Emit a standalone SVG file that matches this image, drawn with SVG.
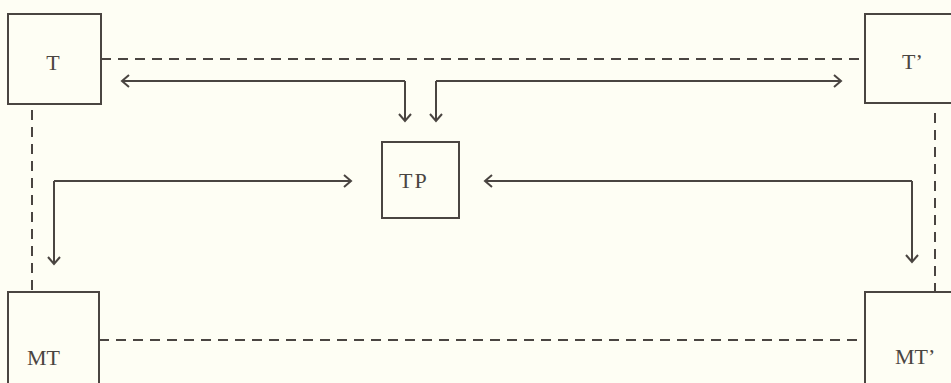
<svg xmlns="http://www.w3.org/2000/svg" width="951" height="383" viewBox="0 0 951 383">
<style>
.bg{fill:#fefef4}
.box{fill:none;stroke:#4a4541;stroke-width:2}
.lbl{font-family:"Liberation Serif","Times New Roman",serif;font-size:22px;fill:#4a4541}
.dash{fill:none;stroke:#4a4541;stroke-width:2;stroke-dasharray:10 7}
.arr{fill:none;stroke:#4a4541;stroke-width:2;marker-end:url(#ah)}
</style>
<defs>
<marker id="ah" markerWidth="14" markerHeight="14" refX="10" refY="7" orient="auto" markerUnits="userSpaceOnUse">
<path d="M3,1 L10,7 L3,13" fill="none" stroke="#4a4541" stroke-width="2"/>
</marker>
</defs>
<rect class="bg" x="0" y="0" width="951" height="383"/>
<g id="connectors">
<line class="dash" x1="101" y1="59" x2="865" y2="59"/>
<line class="dash" x1="99" y1="340" x2="865" y2="340"/>
<line class="dash" x1="32" y1="110" x2="32" y2="292"/>
<line class="dash" x1="935" y1="113" x2="935" y2="292"/>
<path class="arr" d="M405,81 L122,81"/>
<path class="arr" d="M405,81 L405,121"/>
<path class="arr" d="M436,81 L436,121"/>
<path class="arr" d="M436,81 L841,81"/>
<path class="arr" d="M54,181 L351,181"/>
<path class="arr" d="M54,181 L54,264"/>
<path class="arr" d="M912,181 L485,181"/>
<path class="arr" d="M912,181 L912,262"/>
</g>
<g id="T"><rect class="box" x="8" y="14" width="93" height="90"/><text class="lbl" x="53" y="70" text-anchor="middle">T</text></g>
<g id="T2"><rect class="box" x="865" y="14" width="90" height="89"/><text class="lbl" x="902" y="69">T’</text></g>
<g id="TP"><rect class="box" x="382" y="142" width="77" height="76"/><text class="lbl" x="399" y="188" letter-spacing="2">TP</text></g>
<g id="MT"><rect class="box" x="8" y="292" width="91" height="95"/><text class="lbl" x="27" y="365">MT</text></g>
<g id="MT2"><rect class="box" x="865" y="292" width="90" height="95"/><text class="lbl" x="895" y="364">MT’</text></g>
</svg>
